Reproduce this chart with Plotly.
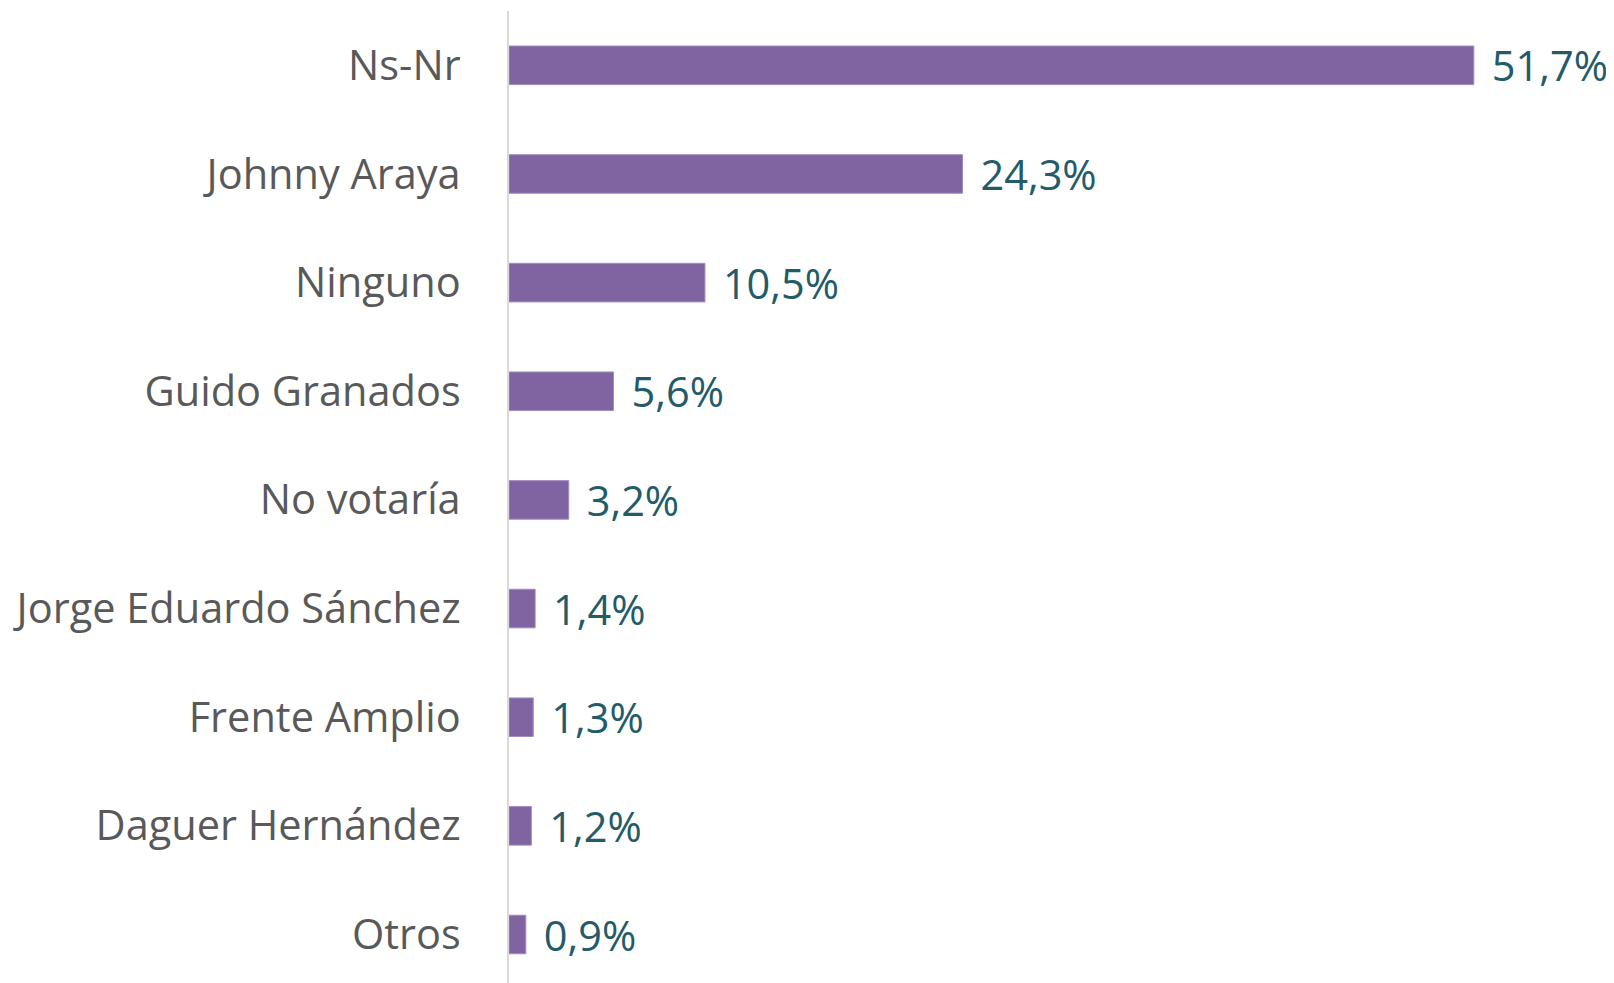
import plotly.graph_objects as go

categories = ["Ns-Nr", "Johnny Araya", "Ninguno", "Guido Granados", "No votaría",
              "Jorge Eduardo Sánchez", "Frente Amplio", "Daguer Hernández", "Otros"]
values = [51.7, 24.3, 10.5, 5.6, 3.2, 1.4, 1.3, 1.2, 0.9]
labels = ["51,7%", "24,3%", "10,5%", "5,6%", "3,2%", "1,4%", "1,3%", "1,2%", "0,9%"]

FONT = "Open Sans"

fig = go.Figure(go.Bar(
    x=values, y=categories, orientation="h",
    marker=dict(color="#8064A2", line=dict(color="#A08CC0", width=1)),
    width=0.355,
    text=[" \u200a" + t for t in labels], textposition="outside",
    constraintext="none",
    textfont=dict(family=FONT, size=41.5, color="#245B69"),
    cliponaxis=False,
))

fig.update_layout(
    width=1614, height=983,
    margin=dict(l=501, r=0, t=3, b=0),
    paper_bgcolor="white", plot_bgcolor="white",
    showlegend=False,
    font=dict(family=FONT, size=41.5, color="#595959"),
    xaxis=dict(range=[0, 59.64], visible=False, showgrid=False, zeroline=False),
    yaxis=dict(type="category", range=[8.52, -0.5], showline=True, linecolor="#D9D9D9",
               linewidth=2, showgrid=False, ticks="", ticklabelstandoff=38,
               tickfont=dict(family=FONT, size=41.5, color="#595959")),
)

fig.write_html("out.html")
